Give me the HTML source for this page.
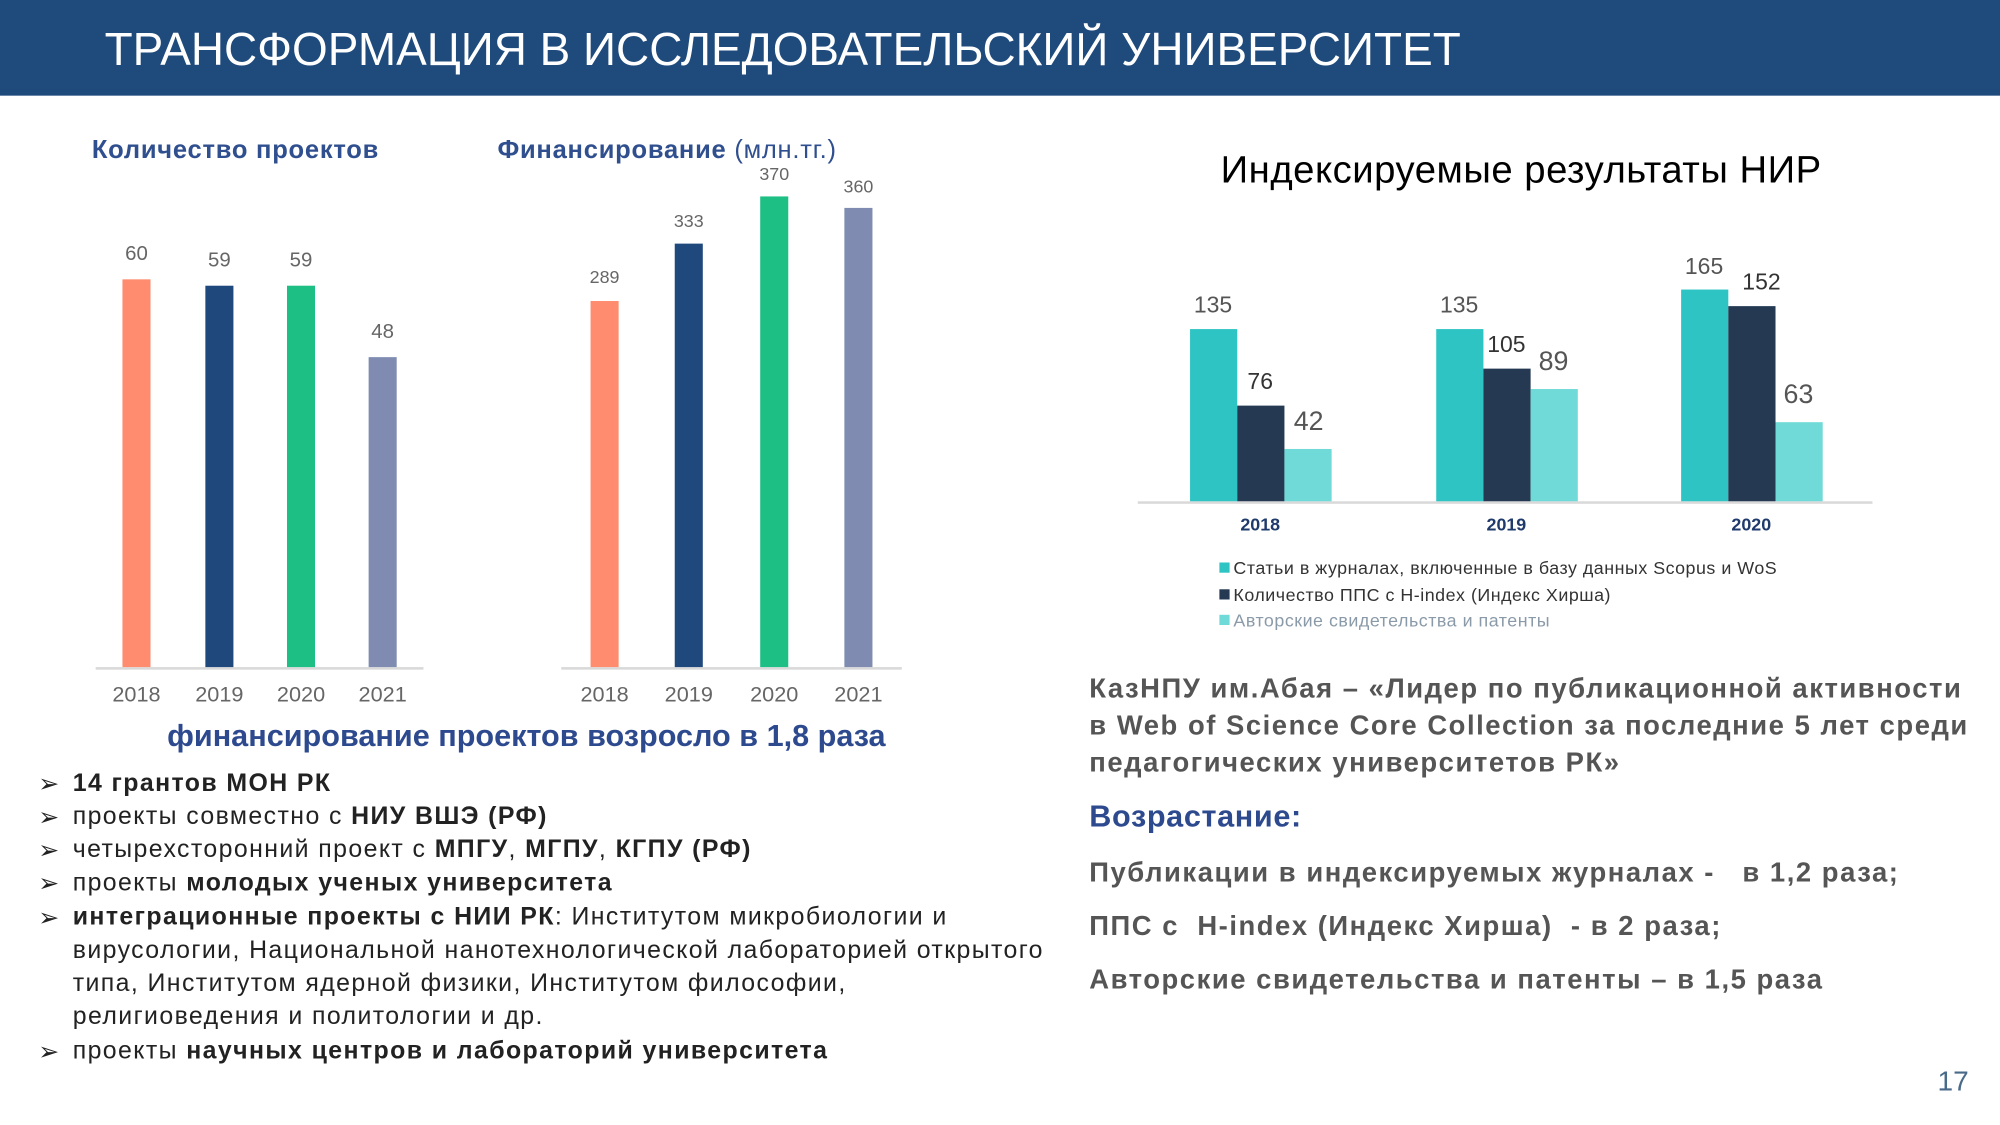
<!DOCTYPE html>
<html><head><meta charset="utf-8"><style>
html,body{margin:0;padding:0;width:2000px;height:1125px;overflow:hidden;background:#fff}
#w{position:absolute;left:0;top:0;width:1568px;height:882px;transform:scale(1.27551);transform-origin:0 0;font-family:"Liberation Sans",sans-serif}
.a{position:absolute;white-space:nowrap}
.b{position:absolute}
.v{position:absolute;font-size:16px;color:#666;width:40px;text-align:center}
.y{position:absolute;font-size:17px;color:#666;width:50px;text-align:center;top:535px}
.rv{position:absolute;font-size:19px;color:#555;width:40px;text-align:center}
.ry{position:absolute;font-size:14px;font-weight:bold;color:#1f3a6b;width:60px;text-align:center;top:403px}
.bl{position:absolute;left:30px;font-size:19.5px;color:#222;white-space:nowrap;letter-spacing:1.1px}
.bl:before{content:"➢";position:absolute;left:0}
.bt{position:absolute;left:57px;font-size:19.5px;color:#222;white-space:nowrap;letter-spacing:1.1px}
.rt{position:absolute;left:854px;font-size:21.5px;font-weight:bold;color:#555;white-space:nowrap;letter-spacing:1.2px}
</style></head><body><div id="w">
<div class="b" style="left:0;top:0;width:1568px;height:75px;background:#1f4a7c"></div>
<div class="a" style="left:82px;top:18px;font-size:36px;color:#fff">ТРАНСФОРМАЦИЯ В ИССЛЕДОВАТЕЛЬСКИЙ УНИВЕРСИТЕТ</div>

<div class="a" style="left:72px;top:107px;font-size:20px;font-weight:bold;color:#2f4f8f;letter-spacing:0.6px">Количество проектов</div>
<div class="a" style="left:390px;top:107px;font-size:20px;font-weight:bold;color:#2f4f8f;letter-spacing:0.6px">Финансирование <span style="font-weight:normal">(млн.тг.)</span></div>

<div class="b" style="left:75px;top:523px;width:257px;height:2px;background:#d9d9d9"></div>
<div class="b" style="left:96px;top:219px;width:22px;height:304px;background:#ff8c6e"></div>
<div class="b" style="left:161px;top:224px;width:22px;height:299px;background:#1f497d"></div>
<div class="b" style="left:225px;top:224px;width:22px;height:299px;background:#1dbf85"></div>
<div class="b" style="left:289px;top:280px;width:22px;height:243px;background:#7f8bb0"></div>
<div class="v" style="left:87px;top:191px">60</div>
<div class="v" style="left:152px;top:196px">59</div>
<div class="v" style="left:216px;top:196px">59</div>
<div class="v" style="left:280px;top:252px">48</div>
<div class="y" style="left:82px">2018</div><div class="y" style="left:147px">2019</div><div class="y" style="left:211px">2020</div><div class="y" style="left:275px">2021</div>

<div class="b" style="left:440px;top:523px;width:267px;height:2px;background:#d9d9d9"></div>
<div class="b" style="left:463px;top:236px;width:22px;height:287px;background:#ff8c6e"></div>
<div class="b" style="left:529px;top:191px;width:22px;height:332px;background:#1f497d"></div>
<div class="b" style="left:596px;top:154px;width:22px;height:369px;background:#1dbf85"></div>
<div class="b" style="left:662px;top:163px;width:22px;height:360px;background:#7f8bb0"></div>
<div class="v" style="left:454px;top:209px;font-size:14px">289</div>
<div class="v" style="left:520px;top:165px;font-size:14px">333</div>
<div class="v" style="left:587px;top:128px;font-size:14px">370</div>
<div class="v" style="left:653px;top:138px;font-size:14px">360</div>
<div class="y" style="left:449px">2018</div><div class="y" style="left:515px">2019</div><div class="y" style="left:582px">2020</div><div class="y" style="left:648px">2021</div>

<div class="a" style="left:131px;top:564px;font-size:24px;font-weight:bold;color:#2e4a8f">финансирование проектов возросло в 1,8 раза</div>

<div class="bl" style="top:603px"><span style="position:absolute;left:27px;font-weight:bold">14 грантов МОН РК</span></div>
<div class="bl" style="top:629px"><span style="position:absolute;left:27px">проекты совместно с <b>НИУ ВШЭ (РФ)</b></span></div>
<div class="bl" style="top:655px"><span style="position:absolute;left:27px">четырехсторонний проект с <b>МПГУ</b>, <b>МГПУ</b>, <b>КГПУ (РФ)</b></span></div>
<div class="bl" style="top:681px"><span style="position:absolute;left:27px">проекты <b>молодых ученых университета</b></span></div>
<div class="bl" style="top:708px"><span style="position:absolute;left:27px"><b>интеграционные проекты с НИИ РК</b>: Институтом микробиологии и</span></div>
<div class="bt" style="top:734px">вирусологии, Национальной нанотехнологической лабораторией открытого</div>
<div class="bt" style="top:760px">типа, Институтом ядерной физики, Институтом философии,</div>
<div class="bt" style="top:786px">религиоведения и политологии и др.</div>
<div class="bl" style="top:813px"><span style="position:absolute;left:27px">проекты <b>научных центров и лабораторий университета</b></span></div>

<div class="a" style="left:957px;top:117px;font-size:30px;color:#000;letter-spacing:0.4px">Индексируемые результаты НИР</div>
<div class="b" style="left:892px;top:393px;width:576px;height:2px;background:#d9d9d9"></div>
<div class="b" style="left:933px;top:258px;width:37px;height:135px;background:#2ec4c4"></div>
<div class="b" style="left:970px;top:318px;width:37px;height:75px;background:#253a52"></div>
<div class="b" style="left:1007px;top:352px;width:37px;height:41px;background:#6fdad7"></div>
<div class="b" style="left:1126px;top:258px;width:37px;height:135px;background:#2ec4c4"></div>
<div class="b" style="left:1163px;top:289px;width:37px;height:104px;background:#253a52"></div>
<div class="b" style="left:1200px;top:305px;width:37px;height:88px;background:#6fdad7"></div>
<div class="b" style="left:1318px;top:227px;width:37px;height:166px;background:#2ec4c4"></div>
<div class="b" style="left:1355px;top:240px;width:37px;height:153px;background:#253a52"></div>
<div class="b" style="left:1392px;top:331px;width:37px;height:62px;background:#6fdad7"></div>
<div class="rv" style="left:931px;top:229px;font-size:18px">135</div>
<div class="rv" style="left:968px;top:289px;font-size:18px;color:#333">76</div>
<div class="rv" style="left:1006px;top:319px;font-size:21px">42</div>
<div class="rv" style="left:1124px;top:229px;font-size:18px">135</div>
<div class="rv" style="left:1161px;top:260px;font-size:18px;color:#333">105</div>
<div class="rv" style="left:1198px;top:272px;font-size:21px">89</div>
<div class="rv" style="left:1316px;top:199px;font-size:18px">165</div>
<div class="rv" style="left:1361px;top:211px;font-size:18px;color:#333">152</div>
<div class="rv" style="left:1390px;top:298px;font-size:21px">63</div>
<div class="ry" style="left:958px">2018</div><div class="ry" style="left:1151px">2019</div><div class="ry" style="left:1343px">2020</div>

<div class="b" style="left:956px;top:441px;width:8px;height:8px;background:#2ec4c4"></div>
<div class="a" style="left:967px;top:437px;font-size:14px;color:#333;letter-spacing:0.4px">Статьи в журналах, включенные в базу данных Scopus и WoS</div>
<div class="b" style="left:956px;top:462px;width:8px;height:8px;background:#253a52"></div>
<div class="a" style="left:967px;top:458px;font-size:14px;color:#333;letter-spacing:0.4px">Количество ППС с  H-index (Индекс Хирша)</div>
<div class="b" style="left:956px;top:482px;width:8px;height:8px;background:#6fdad7"></div>
<div class="a" style="left:967px;top:478px;font-size:14px;color:#8a9aa8;letter-spacing:0.4px">Авторские свидетельства и патенты</div>

<div class="rt" style="top:528px">КазНПУ им.Абая – «Лидер по публикационной активности</div>
<div class="rt" style="top:557px">в Web of Science Core Collection за последние 5 лет среди</div>
<div class="rt" style="top:586px">педагогических университетов РК»</div>
<div class="rt" style="top:627px;font-size:24px;color:#2e4a8f;letter-spacing:0.5px">Возрастание:</div>
<div class="rt" style="top:672px">Публикации в индексируемых журналах -&nbsp;&nbsp; в 1,2 раза;</div>
<div class="rt" style="top:714px">ППС с&nbsp; H-index (Индекс Хирша)&nbsp; - в 2 раза;</div>
<div class="rt" style="top:756px">Авторские свидетельства и патенты – в 1,5 раза</div>
<div class="a" style="left:1519px;top:835px;font-size:22px;color:#4a6a8a">17</div>
</div></body></html>
